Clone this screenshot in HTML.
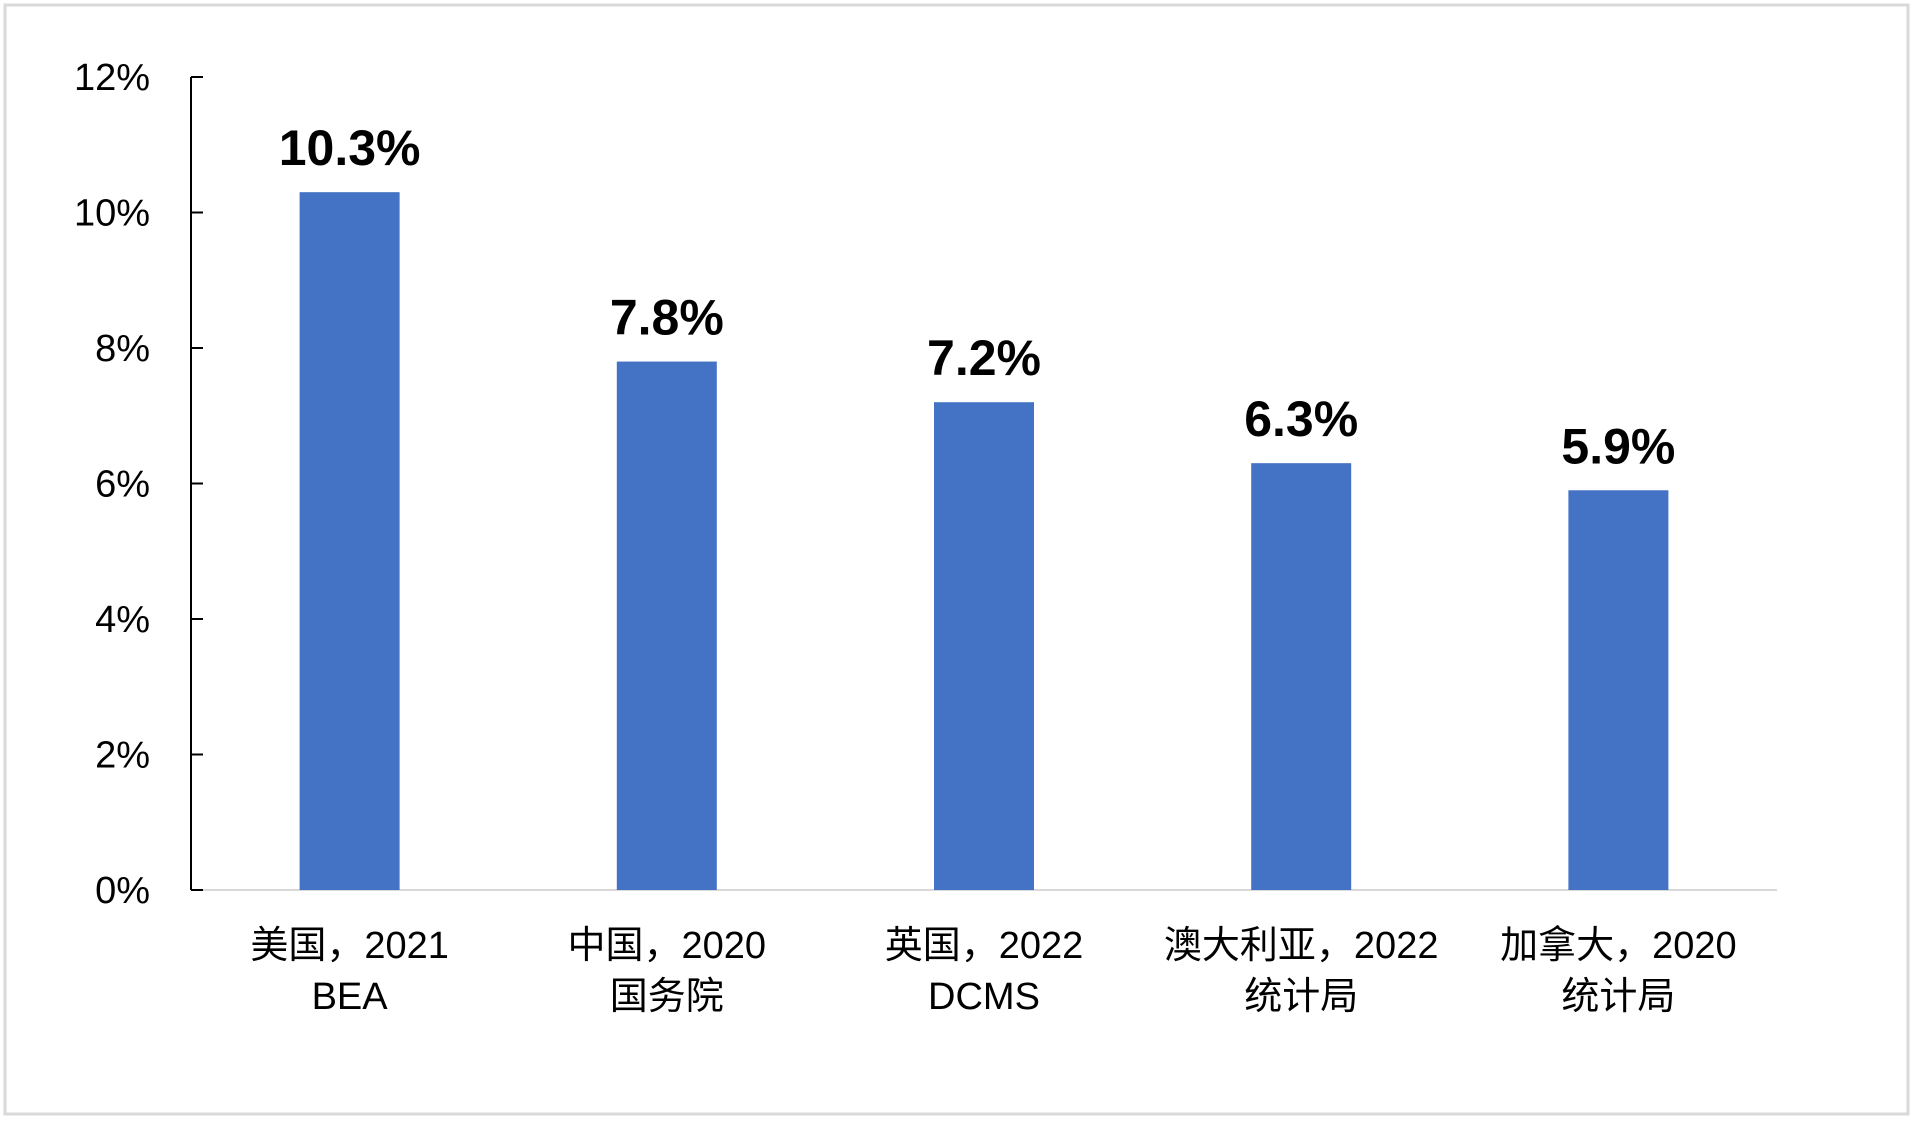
<!DOCTYPE html>
<html><head><meta charset="utf-8"><style>
body{margin:0;background:#fff;}
svg{display:block;font-family:"Liberation Sans","Noto Sans CJK SC",sans-serif;}
</style></head><body>
<svg width="1915" height="1122">
<rect x="5" y="5" width="1903" height="1109" fill="#fff" stroke="#d9d9d9" stroke-width="3"/>
<g id="axes"></g><g id="bars"></g>
</svg>
<script>
const categories=["美国，2021|BEA","中国，2020|国务院","英国，2022|DCMS","澳大利亚，2022|统计局","加拿大，2020|统计局"];
const values=[10.3,7.8,7.2,6.3,5.9];
const valueLabels=["10.3%","7.8%","7.2%","6.3%","5.9%"];
const ticks=[0,2,4,6,8,10,12];
const tickLabels=["0%","2%","4%","6%","8%","10%","12%"];
const NS="http://www.w3.org/2000/svg";
const x0=191,x1=1777,y0=890,yTop=77,yMax=12;
const step=(x1-x0)/categories.length,bw=100;
const yS=v=>y0-(y0-yTop)*v/yMax;
const xS=i=>x0+step*(i+0.5);
function mk(t,a,p){const e=document.createElementNS(NS,t);for(const k in a)e.setAttribute(k,a[k]);p.appendChild(e);return e;}
const ax=document.getElementById('axes'),bars=document.getElementById('bars');
const yl=mk('line',{x1:x0,y1:yTop,x2:x0,y2:y0,stroke:'#000','stroke-width':2},ax);


const xl=mk('line',{x1:x0,y1:y0,x2:x1,y2:y0,stroke:'#d9d9d9','stroke-width':2},ax);


ticks.forEach((t,i)=>{
 const y=yS(t);
 const tk=mk('line',{x1:x0,y1:y,x2:x0+12,y2:y,stroke:'#000','stroke-width':2},ax);
 
 
 const tx=mk('text',{x:150,y:y+13,'text-anchor':'end','font-size':38,fill:'#000'},ax);
 tx.textContent=tickLabels[i];
 
 
});
categories.forEach((c,i)=>{
 const cx=xS(i),y=yS(values[i]);
 const r=mk('rect',{x:cx-bw/2,y:y,width:bw,height:y0-y,fill:'#4472c4'},bars);
 
 
 const v=mk('text',{x:cx,y:y-27,'text-anchor':'middle','font-size':50,'font-weight':'bold',fill:'#000'},bars);
 v.textContent=valueLabels[i];
 
 
 c.split('|').forEach((ln,j)=>{
  const t=mk('text',{x:cx,y:958+j*51,'text-anchor':'middle','font-size':38,fill:'#000'},bars);
  t.textContent=ln;
  
  
 });
});
</script>
</body></html>
